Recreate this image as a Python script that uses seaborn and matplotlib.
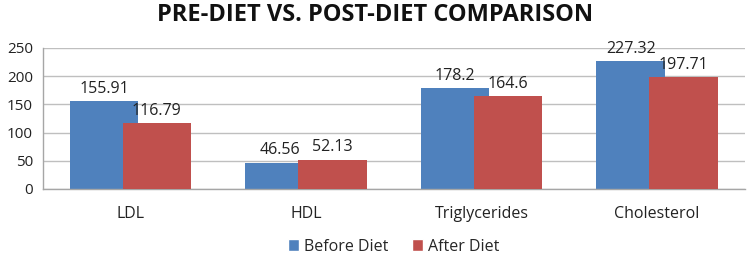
import pandas as pd
import matplotlib
matplotlib.use("Agg")
import matplotlib.pyplot as plt
import seaborn as sns

categories = ["LDL", "HDL", "Triglycerides", "Cholesterol"]
before_diet = [155.91, 46.56, 178.2, 227.32]
after_diet = [116.79, 52.13, 164.6, 197.71]
series = ["Before Diet", "After Diet"]
colors = ["#4F81BD", "#C0504D"]

df = pd.DataFrame({
    "Test": categories * 2,
    "Value": before_diet + after_diet,
    "Series": [series[0]] * 4 + [series[1]] * 4,
})

sns.set_theme(style="white")
plt.rcParams["font.family"] = ["Open Sans", "DejaVu Sans"]

fig = plt.figure(figsize=(7.5, 2.56), dpi=100)
ax = fig.add_axes([0.057, 0.262, 0.936, 0.551])

sns.barplot(data=df, x="Test", y="Value", hue="Series", palette=colors,
            order=categories, hue_order=series, ax=ax, saturation=1, width=0.8)

# Excel-style overlapping bars: width 0.39 of category, centres 0.3 apart
bw, step = 0.39, 0.3
for i, cont in enumerate(ax.containers):
    for j, p in enumerate(cont.patches):
        cx = j + (i - 0.5) * step
        p.set_x(cx - bw / 2)
        p.set_width(bw)
        p.set_edgecolor("none")
        p.set_zorder(2 + i)
    vals = before_diet if i == 0 else after_diet
    ax.bar_label(cont, labels=[f"{v:g}" for v in vals], padding=3, fontsize=11.5, color="#222222")

ax.set_xlim(-0.5, 3.5)
ax.set_ylim(0, 250)
ax.set_yticks(range(0, 251, 50))
ax.yaxis.grid(True, color="#BFBFBF", lw=1)
ax.set_axisbelow(True)
for s in ["top", "right"]:
    ax.spines[s].set_visible(False)
for s in ["left", "bottom"]:
    ax.spines[s].set_color("#A6A6A6")
    ax.spines[s].set_linewidth(1)
ax.tick_params(axis="both", colors="#222222", length=0)
ax.tick_params(axis="x", pad=12, labelsize=11.5)
ax.tick_params(axis="y", pad=7, labelsize=11)
ax.set_xlabel("")
ax.set_ylabel("")

fig.suptitle("PRE-DIET VS. POST-DIET COMPARISON", fontsize=17, fontweight="bold",
             x=0.5, y=0.99, color="#111111")

handles, labels = ax.get_legend_handles_labels()
ax.legend(handles, labels, loc="upper center", bbox_to_anchor=(0.5, -0.25), ncol=2,
          frameon=False, fontsize=11.5, handlelength=0.7, handleheight=0.7,
          handletextpad=0.3, columnspacing=1.5)

fig.savefig("out.png", dpi=100)
